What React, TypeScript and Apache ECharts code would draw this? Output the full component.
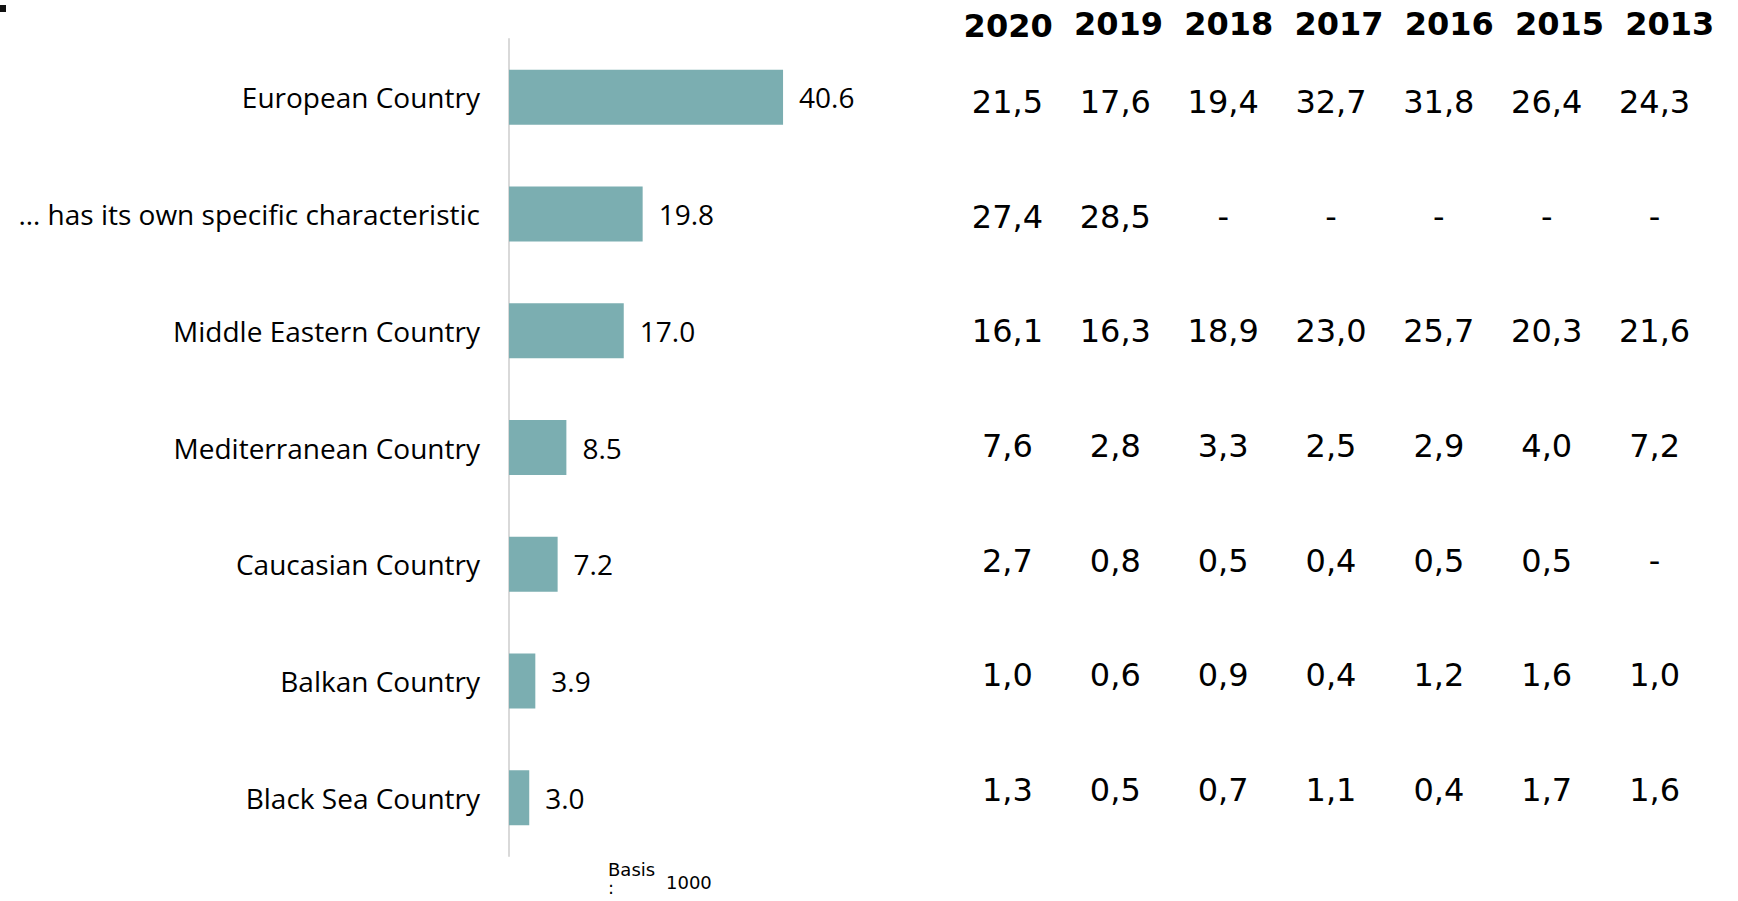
import React, { useEffect, useRef } from 'react';
import * as echarts from 'echarts';

const categories = [
  'European Country',
  '… has its own specific characteristic',
  'Middle Eastern Country',
  'Mediterranean Country',
  'Caucasian Country',
  'Balkan Country',
  'Black Sea Country',
];
const barValues = [40.6, 19.8, 17.0, 8.5, 7.2, 3.9, 3.0];

const years = ['2020', '2019', '2018', '2017', '2016', '2015', '2013'];
const col2020 = ['21,5', '27,4', '16,1', '7,6', '2,7', '1,0', '1,3'];
const col2019 = ['17,6', '28,5', '16,3', '2,8', '0,8', '0,6', '0,5'];
const col2018 = ['19,4', '-', '18,9', '3,3', '0,5', '0,9', '0,7'];
const col2017 = ['32,7', '-', '23,0', '2,5', '0,4', '0,4', '1,1'];
const col2016 = ['31,8', '-', '25,7', '2,9', '0,5', '1,2', '0,4'];
const col2015 = ['26,4', '-', '20,3', '4,0', '0,5', '1,6', '1,7'];
const col2013 = ['24,3', '-', '21,6', '7,2', '-', '1,0', '1,6'];
const tableColumns = [col2020, col2019, col2018, col2017, col2016, col2015, col2013];

const basisLabel = 'Basis\n:';
const basisValue = '1000';

export default function App() {
  const ref = useRef<HTMLDivElement>(null);

  useEffect(() => {
    document.body.style.margin = '0';
    if (!ref.current) return;
    const chart = echarts.init(ref.current, undefined, { renderer: 'svg' });

    const tableData: any[] = [];
    tableColumns.forEach((col, c) => {
      col.forEach((txt, r) => {
        tableData.push({ name: txt, value: [c, r] });
      });
    });

    const labelFont = 'Open Sans';
    const tableFont = 'DejaVu Sans';

    chart.setOption({
      animation: false,
      backgroundColor: '#ffffff',
      grid: [
        { left: 509, top: 39, width: 405, height: 817, containLabel: false },
        { left: 953.5, top: 44.5, width: 755, height: 803, containLabel: false },
        { left: 953, top: 60, width: 772, height: 700, containLabel: false },
      ],
      xAxis: [
        { type: 'value', gridIndex: 0, min: 0, max: 60, show: false },
        { type: 'category', gridIndex: 1, data: years, show: false },
        {
          type: 'category',
          gridIndex: 2,
          data: years,
          position: 'top',
          axisLine: { show: false },
          axisTick: { show: false },
          splitLine: { show: false },
          axisLabel: {
            interval: 0,
            fontFamily: tableFont,
            fontWeight: 'bold',
            fontSize: 32,
            color: '#000',
            margin: 20,
            formatter: (v: string) => (v === years[0] ? '{low|' + v + '}' : '{n|' + v + '}'),
            rich: {
              low: {
                fontFamily: tableFont,
                fontWeight: 'bold',
                fontSize: 32,
                color: '#000',
                padding: [0, 0, -2, 0],
              },
              n: {
                fontFamily: tableFont,
                fontWeight: 'bold',
                fontSize: 32,
                color: '#000',
              },
            },
          },
        },
      ],
      yAxis: [
        {
          type: 'category',
          gridIndex: 0,
          data: categories,
          inverse: true,
          axisLine: { show: true, lineStyle: { color: '#d9d9d9', width: 2 } },
          axisTick: { show: false },
          splitLine: { show: false },
          axisLabel: {
            fontFamily: labelFont,
            fontSize: 28,
            color: '#000',
            margin: 29,
          },
        },
        {
          type: 'category',
          gridIndex: 1,
          data: categories.map((_, i) => String(i)),
          inverse: true,
          show: false,
        },
        { type: 'value', gridIndex: 2, show: false },
      ],
      series: [
        {
          type: 'bar',
          xAxisIndex: 0,
          yAxisIndex: 0,
          data: barValues,
          barWidth: 55,
          itemStyle: { color: '#7BAEB1' },
          label: {
            show: true,
            position: 'right',
            distance: 16,
            fontFamily: labelFont,
            fontSize: 28,
            color: '#000',
            formatter: (p: any) => Number(p.value).toFixed(1),
          },
        },
        {
          type: 'scatter',
          xAxisIndex: 1,
          yAxisIndex: 1,
          data: tableData,
          symbolSize: 1,
          itemStyle: { color: 'rgba(0,0,0,0)', opacity: 1 },
          label: {
            show: true,
            position: 'inside',
            formatter: '{b}',
            fontFamily: tableFont,
            fontSize: 32,
            color: '#000',
            opacity: 1,
            textBorderWidth: 0,
          },
        },
      ],
      graphic: [
        { type: 'rect', shape: { x: 0, y: 5, width: 6, height: 7 }, style: { fill: '#111' } },
        {
          type: 'text',
          x: 608,
          y: 860,
          style: {
            text: basisLabel,
            fontFamily: tableFont,
            fontSize: 18,
            lineHeight: 18,
            fill: '#000',
            textAlign: 'left',
            textVerticalAlign: 'top',
          },
        },
        {
          type: 'text',
          x: 666,
          y: 873,
          style: {
            text: basisValue,
            fontFamily: tableFont,
            fontSize: 18,
            fill: '#000',
            textAlign: 'left',
            textVerticalAlign: 'top',
          },
        },
      ],
    });

    return () => chart.dispose();
  }, []);

  return <div ref={ref} style={{ width: 1738, height: 901, overflow: 'hidden' }} />;
}
